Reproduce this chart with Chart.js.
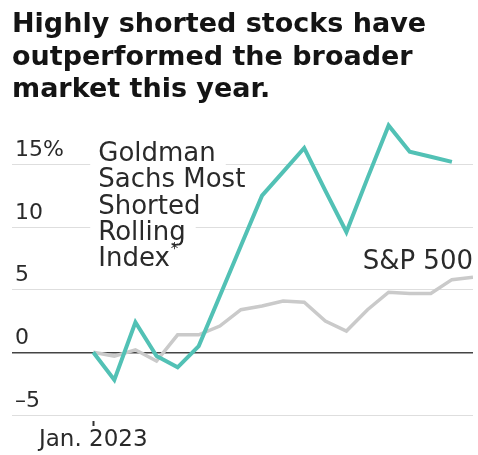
<!DOCTYPE html>
<html>
<head>
<meta charset="utf-8">
<script src="https://cdn.jsdelivr.net/npm/chart.js@4.4.1/dist/chart.umd.min.js"></script>
<style>
  html, body { margin: 0; padding: 0; background: #fff; }
  #wrap { width: 478px; height: 455px; position: relative; }
</style>
</head>
<body>
<div id="wrap"><canvas id="chart"></canvas></div>
<script>
// weekly points from the first week of January 2023
const weeks = [0, 1, 2, 3, 4, 5, 6, 7, 8, 9, 10, 11, 12, 13, 14, 15, 16, 17, 18];
const mostShorted = [0, -2.2, 2.4, -0.3, -1.2, 0.5, 4.5, 8.5, 12.5, 14.4, 16.3, 12.9, 9.6, 13.9, 18.1, 16.0, 15.6, 15.2, null];
const sp500 = [0, -0.3, 0.2, -0.7, 1.4, 1.4, 2.1, 3.4, 3.7, 4.1, 4.0, 2.5, 1.7, 3.4, 4.8, 4.7, 4.7, 5.8, 6.0];
const yTicks = [-5, 0, 5, 10, 15];
const xTicks = [0];
const xTickLabels = { 0: "Jan. 2023" };
const titleLines = [
  "Highly shorted stocks have",
  "outperformed the broader",
  "market this year."
];
const shortedLabel = ["Goldman", "Sachs Most", "Shorted", "Rolling", "Index"];
const spLabel = "S&P 500";

const FONT = "'DejaVu Sans', sans-serif";
const COLORS = {
  teal: "#52c1b5",
  gray: "#cacaca",
  text: "#2a2a2a",
  title: "#141414",
  grid: "#dedede",
  zero: "#444444",
};

function toPoints(values) {
  return weeks.map((w, i) => ({ x: w, y: values[i] }));
}

// series labels drawn next to the lines, positioned through the scales
const seriesLabels = {
  id: "seriesLabels",
  beforeDatasetsDraw(chart) {
    const { ctx, scales: { x, y }, chartArea } = chart;
    ctx.save();
    ctx.font = "26px " + FONT;
    ctx.textBaseline = "middle";
    ctx.textAlign = "left";
    const left = x.getPixelForValue(0) + 5;
    const top = y.getPixelForValue(15) - 10;
    const lh = 26.3;
    shortedLabel.forEach((line, i) => {
      const w = ctx.measureText(line).width;
      const ly = top + i * lh;
      ctx.fillStyle = "#fff";
      ctx.fillRect(left - 8, ly - 14, w + 18, 28);
      ctx.fillStyle = COLORS.text;
      ctx.fillText(line, left, ly);
      if (i === shortedLabel.length - 1) {
        ctx.font = "15px " + FONT;
        ctx.fillText("*", left + w + 1, ly - 9);
        ctx.font = "26px " + FONT;
      }
    });
    ctx.textAlign = "right";
    ctx.fillText(spLabel, chartArea.right, y.getPixelForValue(7.2));
    ctx.restore();
  },
};

new Chart(document.getElementById("chart"), {
  type: "line",
  data: {
    datasets: [
      {
        label: "Goldman Sachs Most Shorted Rolling Index",
        data: toPoints(mostShorted),
        borderColor: COLORS.teal,
        borderWidth: 4,
        pointRadius: 0,
        tension: 0,
        borderJoinStyle: "miter",
      },
      {
        label: "S&P 500",
        data: toPoints(sp500),
        borderColor: COLORS.gray,
        borderWidth: 3.5,
        pointRadius: 0,
        tension: 0,
      },
    ],
  },
  options: {
    responsive: true,
    maintainAspectRatio: false,
    animation: false,
    layout: { padding: { left: 12, right: 5, top: 4, bottom: 0 } },
    plugins: {
      legend: { display: false },
      tooltip: { enabled: false },
      title: {
        display: true,
        text: titleLines,
        align: "start",
        color: COLORS.title,
        font: { family: FONT, size: 27, weight: "bold", lineHeight: 1.2 },
        padding: { top: 5, bottom: 8 },
      },
    },
    scales: {
      x: {
        type: "linear",
        min: -3.85,
        max: 18,
        afterBuildTicks: (scale) => { scale.ticks = xTicks.map((v) => ({ value: v })); },
        border: { display: false },
        grid: {
          display: true,
          drawOnChartArea: false,
          drawTicks: true,
          tickLength: 11,
          tickColor: "#333",
          tickWidth: 2,
          tickBorderDash: [0, 6, 5, 20],
        },
        ticks: {
          padding: 3,
          color: COLORS.text,
          font: { family: FONT, size: 23, lineHeight: 1.0 },
          maxRotation: 0,
          callback: (v) => xTickLabels[v] || "",
        },
      },
      y: {
        position: "left",
        min: -5,
        max: 19,
        afterBuildTicks: (scale) => { scale.ticks = yTicks.map((v) => ({ value: v })); },
        afterFit: (scale) => { scale.width = 0; },
        border: { display: false },
        grid: {
          drawTicks: false,
          color: (c) => (c.tick && c.tick.value === 0 ? COLORS.zero : COLORS.grid),
          lineWidth: (c) => (c.tick && c.tick.value === 0 ? 1.6 : 1),
        },
        ticks: {
          mirror: true,
          padding: 3,
          labelOffset: -14,
          color: COLORS.text,
          font: { family: FONT, size: 22 },
          callback: (v) => (v === 15 ? "15%" : v < 0 ? "\u2013" + Math.abs(v) : String(v)),
        },
      },
    },
  },
  plugins: [seriesLabels],
});
</script>
</body>
</html>
